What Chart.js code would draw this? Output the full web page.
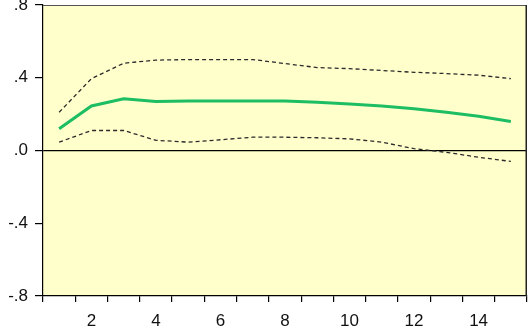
<!DOCTYPE html>
<html>
<head>
<meta charset="utf-8">
<script src="https://cdn.jsdelivr.net/npm/chart.js@4"></script>
<style>
  html, body { margin: 0; padding: 0; background: #ffffff; }
  #wrap { width: 529px; height: 327px; }
</style>
</head>
<body>
<div id="wrap"><canvas id="c" width="529" height="327"></canvas></div>
<script>
// Response horizon (periods)
const periods = ['1','2','3','4','5','6','7','8','9','10','11','12','13','14','15'];
// Point response
const response = [0.12, 0.245, 0.285, 0.27, 0.272, 0.272, 0.272, 0.272, 0.265, 0.256, 0.245, 0.23, 0.21, 0.188, 0.16];
// Upper and lower confidence bands (+/- 2 S.E.)
const upperBand = [0.21, 0.395, 0.48, 0.497, 0.5, 0.5, 0.5, 0.478, 0.456, 0.45, 0.44, 0.43, 0.423, 0.414, 0.395];
const lowerBand = [0.046, 0.11, 0.11, 0.056, 0.046, 0.059, 0.073, 0.073, 0.07, 0.064, 0.046, 0.01, -0.01, -0.037, -0.06];
// Value axis ticks
const yTicks = [-0.8, -0.4, 0, 0.4, 0.8];

function fmtTick(v) {
  if (Math.abs(v) < 1e-9) return '.0';
  const s = Math.abs(v).toFixed(1).replace(/^0/, '');
  return (v < 0 ? '-' : '') + s;
}

// Pale yellow plot area and its frame
const plotFrame = {
  id: 'plotFrame',
  beforeDraw(chart) {
    const { ctx, chartArea: a } = chart;
    ctx.save();
    ctx.fillStyle = '#FFFFCC';
    ctx.fillRect(a.left, a.top, a.right - a.left, a.bottom - a.top);
    ctx.restore();
  },
  afterDraw(chart) {
    const { ctx, chartArea: a } = chart;
    ctx.save();
    ctx.strokeStyle = '#555';
    ctx.lineWidth = 1;
    ctx.beginPath();
    ctx.moveTo(a.left, a.top + 0.5);
    ctx.lineTo(a.right, a.top + 0.5);
    ctx.stroke();
    ctx.strokeStyle = '#222';
    ctx.lineWidth = 1.5;
    ctx.beginPath();
    ctx.moveTo(a.right - 0.75, a.top);
    ctx.lineTo(a.right - 0.75, a.bottom);
    ctx.stroke();
    ctx.restore();
  }
};

const bandStyle = {
  borderColor: '#2a2a2a',
  borderWidth: 1.3,
  borderDash: [4, 3],
  pointRadius: 0,
  fill: false,
  tension: 0
};

new Chart(document.getElementById('c'), {
  type: 'line',
  data: {
    labels: periods,
    datasets: [
      Object.assign({ label: 'upper', data: upperBand }, bandStyle),
      Object.assign({ label: 'lower', data: lowerBand }, bandStyle),
      {
        label: 'response',
        data: response,
        borderColor: '#1DBE63',
        borderWidth: 3,
        pointRadius: 0,
        fill: false,
        tension: 0
      }
    ]
  },
  options: {
    responsive: false,
    animation: false,
    devicePixelRatio: 1,
    layout: { padding: { top: 5, right: 2, left: 0, bottom: 0 } },
    plugins: { legend: { display: false }, tooltip: { enabled: false } },
    scales: {
      x: {
        type: 'category',
        offset: true,
        grid: { offset: true, drawOnChartArea: false, tickLength: 6, tickColor: '#000', lineWidth: 1.2 },
        border: { color: '#000', width: 1.2 },
        ticks: {
          autoSkip: false,
          maxRotation: 0,
          padding: 9,
          color: '#111',
          font: { family: 'Liberation Sans, Arial, sans-serif', size: 17 },
          callback: function (val, idx) {
            const lab = periods[idx];
            return Number(lab) % 2 === 0 ? lab : '';
          }
        },
        afterFit(scale) { scale.height = 31; scale.paddingLeft = 0; scale.paddingRight = 0; }
      },
      y: {
        min: -0.8,
        max: 0.8,
        afterBuildTicks(scale) { scale.ticks = yTicks.map(v => ({ value: v })); },
        grid: {
          drawOnChartArea: true,
          tickLength: 8,
          tickColor: '#000',
          lineWidth: 1.2,
          color: ctx => (ctx.tick && Math.abs(ctx.tick.value) < 1e-9 ? '#000' : 'rgba(0,0,0,0)')
        },
        border: { color: '#000', width: 1.2 },
        ticks: {
          padding: 7,
          color: '#111',
          font: { family: 'Liberation Sans, Arial, sans-serif', size: 17 },
          callback: v => fmtTick(v)
        },
        afterFit(scale) { scale.width = 43; scale.paddingTop = 0; scale.paddingBottom = 0; }
      }
    }
  },
  plugins: [plotFrame]
});
</script>
</body>
</html>
